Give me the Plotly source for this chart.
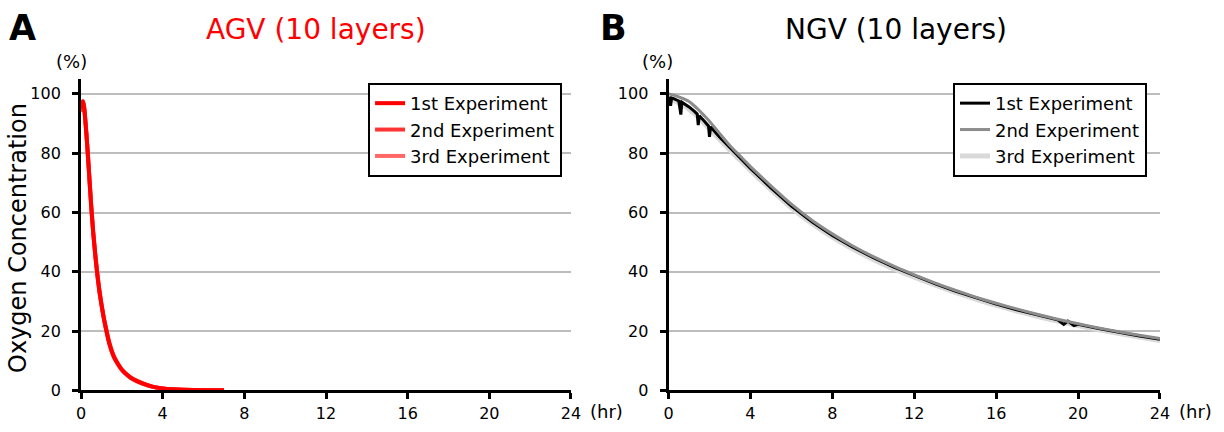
import plotly.graph_objects as go

# --- AGV (10 layers): oxygen concentration (%) vs time (hr)
agv_time = [0, 0.05, 0.1, 0.15, 0.2, 0.3, 0.4, 0.5, 0.6, 0.7, 0.8, 0.9, 1.0, 1.1, 1.2,
            1.4, 1.6, 1.8, 2.0, 2.25, 2.5, 3.0, 3.5, 4.0, 4.5, 5.0, 6.0, 7.0]
agv_exp1 = [95, 97, 97.5, 95.5, 92, 83, 72.5, 62, 53, 45.5, 39, 33.5, 29, 25, 21.5,
            15.5, 11.5, 9, 7, 5.3, 4, 2.4, 1.3, 0.7, 0.4, 0.25, 0.1, 0.05]
agv_exp2 = [94, 96.5, 97.2, 95.8, 92.5, 83.5, 73, 62.5, 53.5, 46, 39.5, 34, 29.3, 25.2, 21.8,
            15.8, 11.7, 9.1, 7.1, 5.4, 4.1, 2.5, 1.3, 0.7, 0.4, 0.25, 0.1, 0.05]
agv_exp3 = [94.5, 96.8, 97.3, 95.2, 91.6, 82.6, 72, 61.6, 52.6, 45.2, 38.7, 33.2, 28.8, 24.8, 21.3,
            15.3, 11.4, 8.9, 6.9, 5.2, 3.9, 2.3, 1.2, 0.7, 0.4, 0.25, 0.1, 0.05]

# --- NGV (10 layers)
ngv_time = [0, 0.25, 0.5, 0.75, 1, 1.25, 1.5, 1.75, 2, 2.5, 3, 3.5, 4, 5, 6, 7, 8, 9, 10,
            11, 12, 13, 14, 15, 16, 17, 18, 19, 20, 21, 22, 23, 24]
ngv_exp2 = [100, 99.6, 99.0, 98.3, 97.4, 96.0, 94.4, 92.6, 90.8, 86.6, 82.5, 79.0, 75.5,
            69.0, 62.8, 57.4, 52.8, 48.7, 45.1, 41.9, 39.0, 36.3, 33.8, 31.5, 29.4, 27.5,
            25.7, 24.0, 22.5, 21.1, 19.8, 18.6, 17.5]
ngv_time1 = [0, 0.1, 0.15, 0.25, 0.5, 0.6, 0.65, 0.75, 1, 1.25, 1.4, 1.45, 1.5, 1.75,
             1.95, 2.0, 2.05, 2.5, 3, 3.5, 4, 5, 6, 7, 8, 9, 10, 11, 12, 13, 14, 15, 16,
             17, 18, 19, 19.3, 19.5, 19.8, 20, 21, 22, 23, 24]
ngv_exp1 = [99, 96, 98.6, 98.4, 97.6, 93, 97.2, 96.8, 95.6, 94.2, 93.2, 89.5, 92.6, 90.8,
            89.2, 85.5, 88.9, 85.4, 81.8, 78.4, 74.9, 68.3, 62.2, 56.9, 52.3, 48.3, 44.8,
            41.6, 38.7, 36.0, 33.5, 31.2, 29.1, 27.2, 25.4, 23.8, 22.3, 23.4, 21.9, 22.3,
            20.9, 19.6, 18.4, 17.3]
ngv_exp3 = [98.5, 97.8, 97.0, 96.0, 94.8, 93.4, 91.8, 90.0, 88.2, 84.6, 81.0, 77.6, 74.2,
            67.7, 61.6, 56.3, 51.7, 47.7, 44.2, 41.0, 38.2, 35.6, 33.1, 30.8, 28.7, 26.8,
            25.0, 23.4, 21.9, 20.5, 19.2, 18.0, 16.8]

names = ["1st Experiment", "2nd Experiment", "3rd Experiment"]
x_ticks = [0, 4, 8, 12, 16, 20, 24]
y_ticks = [0, 20, 40, 60, 80, 100]

FONT = "DejaVu Sans, Arial, sans-serif"

fig = go.Figure()

# AGV traces (3rd drawn first so the pure red stays on top)
agv = [(agv_exp1, "#ff0000"), (agv_exp2, "#ff3333"), (agv_exp3, "#ff6666")]
for i in [2, 1, 0]:
    vals, col = agv[i]
    fig.add_trace(go.Scatter(x=agv_time, y=vals, mode="lines", name=names[i],
                             line=dict(color=col, width=4, shape="spline", smoothing=0.6),
                             legendrank=i + 1, xaxis="x", yaxis="y", legend="legend"))

# NGV traces
fig.add_trace(go.Scatter(x=ngv_time, y=ngv_exp3, mode="lines", name=names[2],
                         line=dict(color="#d9d9d9", width=5, shape="spline", smoothing=0.6),
                         legendrank=3, xaxis="x2", yaxis="y2", legend="legend2"))
fig.add_trace(go.Scatter(x=ngv_time1, y=ngv_exp1, mode="lines", name=names[0],
                         line=dict(color="#000000", width=3), legendrank=1,
                         xaxis="x2", yaxis="y2", legend="legend2"))
fig.add_trace(go.Scatter(x=ngv_time, y=ngv_exp2, mode="lines", name=names[1],
                         line=dict(color="#8c8c8c", width=3, shape="spline", smoothing=0.6),
                         legendrank=2, xaxis="x2", yaxis="y2", legend="legend2"))

xax = dict(range=[0, 24], tickvals=x_ticks, showgrid=False, showline=True, automargin=False,
           linecolor="black", linewidth=3, ticks="outside", ticklen=6, tickwidth=3,
           tickcolor="black", zeroline=False, tickfont=dict(size=16, color="black"))
yax = dict(range=[0, 105], tickvals=y_ticks, showgrid=True, gridcolor="#bdbdbd",
           gridwidth=1.5, showline=True, linecolor="black", linewidth=3, automargin=False,
           ticks="outside", ticklen=6, tickwidth=3, tickcolor="black", zeroline=False,
           ticklabelstandoff=8, tickfont=dict(size=16, color="black"))

legend_style = dict(bordercolor="black", borderwidth=2, bgcolor="white",
                    font=dict(size=18, color="black", family=FONT),
                    xanchor="left", yanchor="top", y=0.808, tracegroupgap=0)

fig.update_layout(
    width=1224, height=432,
    margin=dict(l=0, r=0, t=0, b=0, autoexpand=False),
    plot_bgcolor="white", paper_bgcolor="white",
    font=dict(family=FONT, color="black"),
    xaxis=dict(domain=[0.0662, 0.4665], anchor="y", **xax),
    yaxis=dict(domain=[0.0961, 0.817], anchor="x", **yax),
    xaxis2=dict(domain=[0.5462, 0.9477], anchor="y2", **xax),
    yaxis2=dict(domain=[0.0961, 0.817], anchor="x2", **yax),
    legend=dict(x=0.3007, **legend_style),
    legend2=dict(x=0.7786, **legend_style),
    showlegend=True,
)

annotations = [
    dict(text="<b>A</b>", x=22, y=28, size=35, color="black", xanchor="center"),
    dict(text="<b>B</b>", x=613, y=28, size=35, color="black", xanchor="center"),
    dict(text="AGV (10 layers)", x=316, y=30, size=28, color="#ff0000", xanchor="center"),
    dict(text="NGV (10 layers)", x=896, y=30, size=28, color="black", xanchor="center"),
    dict(text="(%)", x=71, y=61, size=18, color="black", xanchor="center"),
    dict(text="(%)", x=657, y=61, size=18, color="black", xanchor="center"),
    dict(text="(hr)", x=588, y=411, size=18, color="black", xanchor="left"),
    dict(text="(hr)", x=1177, y=411, size=18, color="black", xanchor="left"),
]
for a in annotations:
    fig.add_annotation(text=a["text"], xref="paper", yref="paper",
                       x=a["x"] / 1224, y=1 - a["y"] / 432, showarrow=False,
                       xanchor=a["xanchor"], yanchor="middle",
                       font=dict(size=a["size"], color=a["color"], family=FONT))

fig.add_annotation(text="Oxygen Concentration", xref="paper", yref="paper",
                   x=18 / 1224, y=1 - 238 / 432, showarrow=False, textangle=-90,
                   xanchor="center", yanchor="middle",
                   font=dict(size=24, color="black", family=FONT))

# remove the default page margin and scrollbars so the figure fills the window exactly
fig.write_html("out.html", config={"displayModeBar": False},
               post_script="document.body.style.margin='0px';"
                           "document.body.style.overflow='hidden';"
                           "document.documentElement.style.overflow='hidden';")
